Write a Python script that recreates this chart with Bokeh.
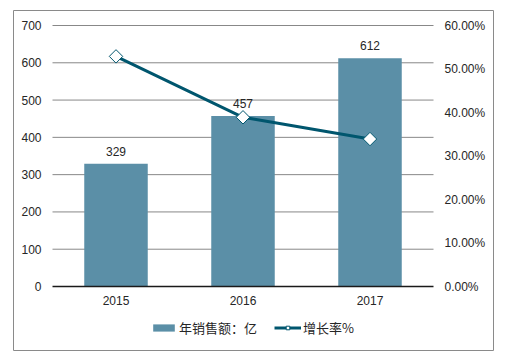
import math
from bokeh.plotting import figure
from bokeh.models import (ColumnDataSource, Range1d, LinearAxis, FixedTicker,
                          NumeralTickFormatter, Legend)
from bokeh.embed import file_html
from bokeh.resources import INLINE
from bokeh.core.properties import value

years = [2015, 2016, 2017]
sales = [329, 457, 612]
growth = [0.529, 0.389, 0.339]
left_ticks = [0, 100, 200, 300, 400, 500, 600, 700]
right_ticks = [0.0, 0.1, 0.2, 0.3, 0.4, 0.5, 0.6]
sales_name = "年销售额：亿"
growth_name = "增长率%"

BAR = "#5B8FA7"
LINE = "#00566E"
TXT = "#262626"
GRID = "#888888"
FONT = "Liberation Sans"

# plot-area extents derived from the data
x_lo, x_hi = years[0] - 0.5, years[-1] + 0.5
y_top = left_ticks[-1]
p_top = right_ticks[-1]
ratio = p_top / y_top

# outer chart box (frame) reaches beyond the plot area
X0, X1 = x_lo - 39 / 127, x_hi + 60 / 127
Y1 = y_top + 15 / 261 * y_top
Y0 = -64 / 261 * y_top

src = ColumnDataSource(dict(x=years, sales=sales, growth=growth,
                            lab=[str(v) for v in sales]))

p = figure(x_range=Range1d(X0, X1), y_range=Range1d(Y0, Y1),
           frame_width=480, frame_height=340, output_backend="svg",
           toolbar_location=None,
           min_border_left=13, min_border_right=12, min_border_top=10, min_border_bottom=7)
p.outline_line_color = "#8a8a8a"
p.outline_line_width = 1
p.background_fill_color = "white"
p.border_fill_color = "white"
p.extra_y_ranges = {"pct": Range1d(Y0 * ratio, Y1 * ratio)}

p.xgrid.grid_line_color = None
p.ygrid.grid_line_color = None

# horizontal grid lines across the plot area
p.segment(x0=x_lo, x1=x_hi, y0=left_ticks[1:], y1=left_ticks[1:],
          line_color=GRID, line_width=1)

bars = p.vbar(x="x", top="sales", width=0.5, source=src, fill_color=BAR, line_color=None)
p.text(x="x", y="sales", text="lab", source=src, text_align="center",
       text_baseline="bottom", y_offset=-8, text_font=value(FONT),
       text_font_size="12px", text_color=TXT)
ln = p.line(x="x", y="growth", source=src, y_range_name="pct", line_color=LINE, line_width=3)
mk = p.scatter(x="x", y="growth", source=src, y_range_name="pct", marker="square",
               angle=math.pi / 4, size=9.5, fill_color="white", line_color=LINE, line_width=1)

# axes
ya = p.yaxis[0]
ya.ticker = FixedTicker(ticks=left_ticks)
ya.fixed_location = x_lo
ya.bounds = (0, y_top)
ax_r = LinearAxis(y_range_name="pct", ticker=FixedTicker(ticks=right_ticks),
                  formatter=NumeralTickFormatter(format="0.00%"))
p.add_layout(ax_r, "right")
ax_r.fixed_location = x_hi
ax_r.bounds = (0, p_top)
for ax in [ya, ax_r]:
    ax.axis_line_color = None
    ax.major_tick_line_color = None
    ax.minor_tick_line_color = None
    ax.major_tick_out = 0
    ax.major_tick_in = 0
    ax.major_label_standoff = 11
    ax.major_label_text_font = FONT
    ax.major_label_text_font_size = "12px"
    ax.major_label_text_color = TXT
xa = p.xaxis[0]
xa.ticker = FixedTicker(ticks=years)
xa.fixed_location = 0
xa.bounds = (x_lo, x_hi)
xa.axis_line_color = "#1a1a1a"
xa.axis_line_width = 1.5
xa.major_tick_line_color = None
xa.minor_tick_line_color = None
xa.major_tick_out = 0
xa.major_tick_in = 0
xa.major_label_standoff = 9
xa.major_label_text_font = FONT
xa.major_label_text_font_size = "12px"
xa.major_label_text_color = TXT

legend = Legend(items=[(sales_name, [bars]), (growth_name, [ln, mk])],
                location=(137, 13), orientation="horizontal",
                glyph_width=27, glyph_height=9, label_standoff=2, spacing=17,
                padding=0, margin=0, border_line_color=None,
                background_fill_alpha=0,
                label_text_font="Noto Sans CJK SC", label_text_font_size="13px",
                label_text_color=TXT)
p.add_layout(legend, "center")

open("out.html", "w").write(file_html(p, INLINE))
